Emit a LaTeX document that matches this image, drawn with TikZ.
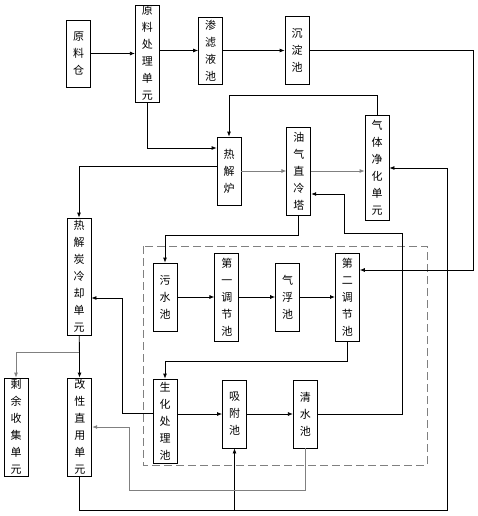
\documentclass[tikz,border=0pt]{standalone}
\usepackage{fontspec}
\newfontfamily\cjk{Noto Sans CJK SC}
\usepackage{tikz}
\usetikzlibrary{arrows.meta, positioning}
\tikzset{
    node distance = 40pt and 40pt,% one pt of the picture is one pixel of the drawing
    unit/.style = {draw, line width=0.8pt, minimum width=24pt, inner sep=0pt, align=center, font=\cjk\fontsize{11}{17}\selectfont}, % tall box with the text stacked
    flow/.style = {-{Latex[length=5pt, width=4pt]}, line width=0.8pt},
    gflow/.style = {flow, draw=gray}
}
\begin{document}
\begin{tikzpicture}[x=1pt, y=-1pt]
    \useasboundingbox (0,0) rectangle (478,516);
    \node[unit, minimum height=67pt] (1) at (78.5,53.5) {原\\料\\仓};
    \node[unit, minimum height=97pt, right=44pt of 1] (2) {原\\料\\处\\理\\单\\元};
    \node[unit, minimum height=67pt] (3) at (210.5,50.5) {渗\\滤\\液\\池};
    \node[unit, minimum height=68pt] (4) at (297,50.5) {沉\\淀\\池};
    \node[unit, minimum height=68pt] (5) at (229,171) {热\\解\\炉};
    \node[unit, minimum height=88pt, right=45pt of 5] (6) {油\\气\\直\\冷\\塔};
    \node[unit, minimum height=105pt] (7) at (377,167.5) {气\\体\\净\\化\\单\\元};
    \node[unit, minimum height=117pt] (8) at (79,276.5) {热\\解\\炭\\冷\\却\\单\\元};
    \node[unit, minimum height=68pt] (9) at (165,297) {污\\水\\池};
    \node[unit, minimum height=88pt, right=37pt of 9] (10) {第\\一\\调\\节\\池};
    \node[unit, minimum height=68pt, right=36pt of 10] (11) {气\\浮\\池};
    \node[unit, minimum height=88pt, right=35pt of 11] (12) {第\\二\\调\\节\\池};
    \node[unit, minimum height=84pt] (13) at (165,421) {生\\化\\处\\理\\池};
    \node[unit, minimum height=68pt] (14) at (234.5,414) {吸\\附\\池};
    \node[unit, minimum height=68pt, right=46pt of 14] (15) {清\\水\\池};
    \node[unit, minimum height=98pt] (16) at (16,427) {剩\\余\\收\\集\\单\\元};
    \node[unit, minimum height=98pt, right=39pt of 16] (17) {改\\性\\直\\用\\单\\元};
    % water treatment part
    \draw[gray, line width=1pt, dash pattern=on 8pt off 4pt] (143,246) rectangle (427,465);
    \draw[flow] (1) -- (2);
    \draw[flow] (2.east |- 3) -- (3);
    \draw[flow] (3) -- (4);
    \draw[flow] (4) -- (473,50.5) |- (12.east |- 0,270);
    \draw[flow] (2) |- (5.west |- 0,148);
    \draw[flow] (7) -- (7 |- 0,95) -| (5);
    \draw[flow] (5.west |- 0,166) -| (8);
    \draw[gflow] (5) -- (6);
    \draw[gflow] (6) -- (7.west |- 6);
    \draw[flow] (17) |- (447,510) |- (7.east |- 0,168);
    \draw[flow] (14 |- 0,510) -- (14);
    \draw[flow] (6) -- (6 |- 0,235) -| (9);
    \draw[flow] (15) -- (402,414) |- (344,233) |- (6.east |- 0,194);
    \draw[flow] (9) -- (10);
    \draw[flow] (10) -- (11);
    \draw[flow] (11) -- (12);
    \draw[flow] (12) -- (12 |- 0,361) -| (13);
    \draw[flow] (13.east |- 14) -- (14);
    \draw[flow] (14) -- (15);
    \draw[flow] (13.west |- 0,413) -- (122,413) |- (8.east |- 0,298);
    \draw[gflow] (15) |- (129,490) |- (17.east |- 0,427);
    \draw[flow] (8) -- (17);
    \draw[gflow] (8 |- 0,352) -| (16);
\end{tikzpicture}
\end{document}
